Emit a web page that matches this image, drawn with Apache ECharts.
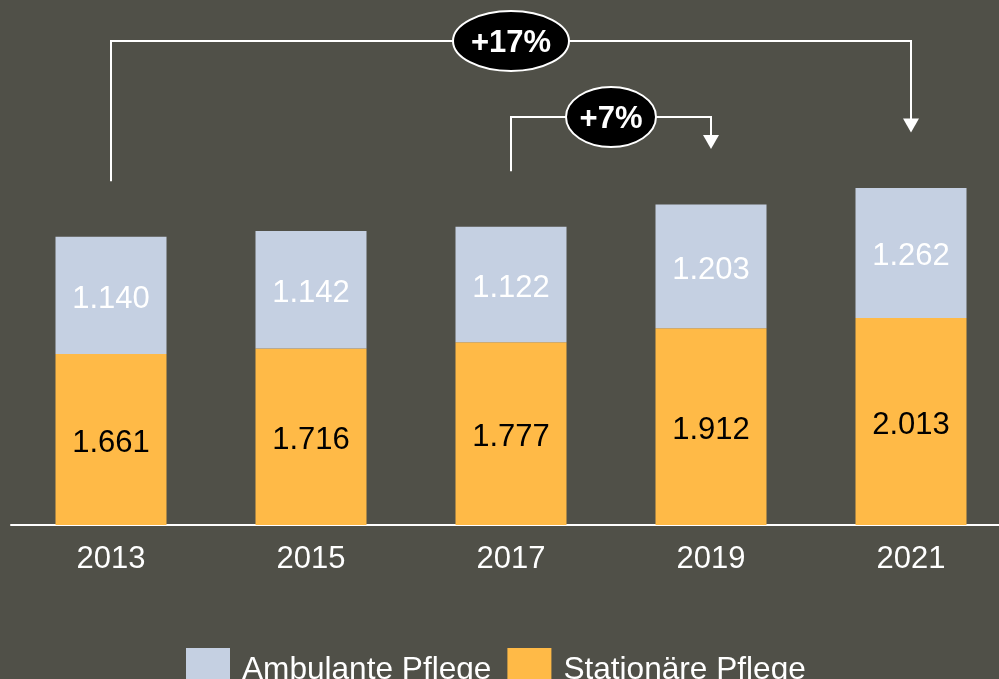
<!DOCTYPE html>
<html><head><meta charset="utf-8">
<script src="https://cdn.jsdelivr.net/npm/echarts@6/dist/echarts.min.js"></script>
<style>html,body{margin:0;padding:0;background:#505048}#c{width:999px;height:679px}</style>
</head><body><div id="c"></div>
<script>
const years = ['2013', '2015', '2017', '2019', '2021'];
const stationaer = [1661, 1716, 1777, 1912, 2013];
const ambulant = [1140, 1142, 1122, 1203, 1262];
const totals = [2801, 2858, 2899, 3115, 3275];
const seriesNames = ['Ambulante Pflege', 'Stationäre Pflege'];
const growthLabels = ['+17%', '+7%'];

const FONT = 'Liberation Sans, Arial, sans-serif';
const fmt = v => Math.floor(v / 1000) + '.' + String(v % 1000).padStart(3, '0');

const chart = echarts.init(document.getElementById('c'), null, {renderer: 'canvas'});
chart.setOption({
  backgroundColor: '#505048',
  animation: false,
  textStyle: {fontFamily: FONT},
  grid: {left: 11, right: -12, top: 41.4, bottom: 154, containLabel: false, outerBoundsMode: 'none'},
  legend: {
    data: seriesNames,
    top: 643, left: 181,
    itemWidth: 44, itemHeight: 44, itemGap: 16,
    icon: 'rect',
    textStyle: {color: '#ffffff', fontSize: 31.6, fontFamily: FONT, padding: [0, 0, 36, 7]}
  },
  xAxis: {
    type: 'category', data: years,
    axisLine: {lineStyle: {color: '#ffffff', width: 2}},
    axisTick: {show: false},
    axisLabel: {color: '#ffffff', fontSize: 31, fontFamily: FONT, margin: 19}
  },
  yAxis: {type: 'value', min: 0, max: 4700, show: false, splitLine: {show: false}},
  series: [
    {
      name: seriesNames[1], type: 'bar', stack: 'a', data: stationaer, barWidth: 111,
      itemStyle: {color: '#ffba47'},
      label: {show: true, position: 'inside', offset: [0, 4], color: '#000000', fontSize: 31, fontFamily: FONT,
        formatter: p => fmt(p.value)}
    },
    {
      name: seriesNames[0], type: 'bar', stack: 'a', data: ambulant, barWidth: 111,
      itemStyle: {color: '#c5d0e2'},
      label: {show: true, position: 'inside', offset: [0, 4], color: '#ffffff', fontSize: 31, fontFamily: FONT,
        formatter: p => fmt(p.value)}
    },
    {
      name: 'Gesamt', type: 'line', data: totals, symbol: 'none', silent: true,
      lineStyle: {opacity: 0}, z: 5,
      label: {show: true, position: 'top', distance: 8, color: '#ffffff', fontSize: 31, fontFamily: FONT,
        formatter: p => fmt(p.value)}
    }
  ]
});

const px = i => chart.convertToPixel({gridIndex: 0}, [i, totals[i]]);
const p0 = px(0), p2 = px(2), p3 = px(3), p4 = px(4);
const gap = 55.5, head = 14, hw = 8;
const white = '#ffffff';
function arrowHead(x, tip) {
  return {type: 'polygon', shape: {points: [[x - hw, tip - head], [x + hw, tip - head], [x, tip]]},
    style: {fill: white}, z: 10};
}
const yBig = 41, ySmall = 117;
const tip4 = p4[1] - gap, tip3 = p3[1] - gap;
const graphics = [
  {type: 'polyline', shape: {points: [[p0[0], p0[1] - gap], [p0[0], yBig], [p4[0], yBig], [p4[0], tip4 - head + 1]]},
    style: {stroke: white, lineWidth: 2, fill: null}, z: 10},
  arrowHead(p4[0], tip4),
  {type: 'ellipse', shape: {cx: (p0[0] + p4[0]) / 2, cy: yBig, rx: 58, ry: 30},
    style: {fill: '#000000', stroke: white, lineWidth: 2}, z: 11},
  {type: 'text', x: (p0[0] + p4[0]) / 2, y: yBig + 2, z: 12,
    style: {text: growthLabels[0], fill: white, font: 'bold 31px ' + FONT, align: 'center', verticalAlign: 'middle', textAlign: 'center', textVerticalAlign: 'middle'}},
  {type: 'polyline', shape: {points: [[p2[0], p2[1] - gap], [p2[0], ySmall], [p3[0], ySmall], [p3[0], tip3 - head + 1]]},
    style: {stroke: white, lineWidth: 2, fill: null}, z: 10},
  arrowHead(p3[0], tip3),
  {type: 'ellipse', shape: {cx: (p2[0] + p3[0]) / 2, cy: ySmall, rx: 45, ry: 30},
    style: {fill: '#000000', stroke: white, lineWidth: 2}, z: 11},
  {type: 'text', x: (p2[0] + p3[0]) / 2, y: ySmall + 2, z: 12,
    style: {text: growthLabels[1], fill: white, font: 'bold 31px ' + FONT, align: 'center', verticalAlign: 'middle', textAlign: 'center', textVerticalAlign: 'middle'}}
];
chart.setOption({graphic: graphics});
</script>
</body></html>
